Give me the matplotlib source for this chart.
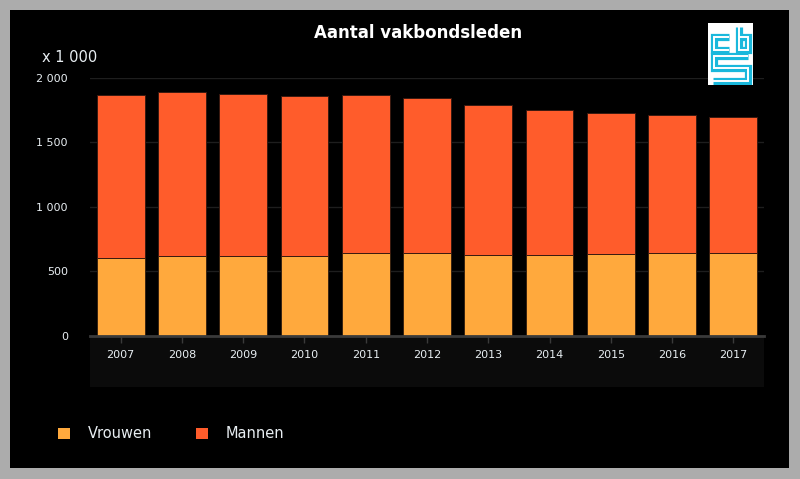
import matplotlib
matplotlib.use("Agg")
import matplotlib.pyplot as plt
from matplotlib.patches import Rectangle
import numpy as np

plt.rcParams["font.family"] = ["DejaVu Sans"]

years = ["2007", "2008", "2009", "2010", "2011", "2012", "2013", "2014", "2015", "2016", "2017"]
vrouwen = [605, 620, 620, 620, 643, 643, 628, 628, 638, 643, 643]
mannen = [1257, 1268, 1256, 1235, 1219, 1195, 1156, 1124, 1084, 1063, 1048]
yticks = [0, 500, 1000, 1500, 2000]
ytick_labels = ["0", "500", "1 000", "1 500", "2 000"]

C_V = "#ffa93d"
C_M = "#ff5c2b"
TXT = "#e8eef2"

W, H = 800, 479
fig = plt.figure(figsize=(W / 100, H / 100), dpi=100)
fig.patch.set_facecolor("#acacac")

def fx(px):
    return px / W

def fy(py):
    return 1 - py / H

# black panel
fig.patches.append(Rectangle((fx(10), fy(468)), fx(789) - fx(10), fy(10) - fy(468),
                             transform=fig.transFigure, facecolor="black", edgecolor="none", zorder=-5))
# x-axis band
fig.patches.append(Rectangle((fx(90), fy(387)), fx(764) - fx(90), fy(336) - fy(387),
                             transform=fig.transFigure, facecolor="#0b0b0b", edgecolor="none", zorder=-4))

ax = fig.add_axes([fx(90), fy(336), fx(764) - fx(90), fy(77.5) - fy(336)])
ax.set_facecolor("none")
x = np.arange(len(years))
ax.bar(x, vrouwen, width=0.78, color=C_V, edgecolor="#3a2410", linewidth=0.7, zorder=3)
ax.bar(x, mannen, width=0.78, bottom=vrouwen, color=C_M, edgecolor="#3a1a10", linewidth=0.7, zorder=3)
ax.set_xlim(-0.5, len(years) - 0.5)
ax.set_ylim(0, 2000)
ax.set_yticks(yticks)
ax.set_yticklabels(ytick_labels)
ax.set_xticks(x)
ax.set_xticklabels(years)
ax.grid(axis="y", color="#1e1e1e", linewidth=1, zorder=0)
ax.set_axisbelow(True)
for s in ["top", "right", "left"]:
    ax.spines[s].set_visible(False)
ax.spines["bottom"].set_color("#3a3a3a")
ax.spines["bottom"].set_linewidth(2)
ax.spines["bottom"].set_zorder(4)
ax.tick_params(axis="y", length=0, pad=16, labelsize=8, labelcolor=TXT)
ax.tick_params(axis="x", length=5, width=1, color="#3a3a3a", pad=5, labelsize=8, labelcolor=TXT)

# title and unit
fig.text(fx(418), fy(33), "Aantal vakbondsleden", ha="center", va="center",
         color="white", fontsize=12, fontweight="bold")
fig.text(fx(42), fy(58), "x 1 000", ha="left", va="center", color=TXT, fontsize=10.5)

# legend
for sx, tx, col, lab in [(58, 88, C_V, "Vrouwen"), (196, 226, C_M, "Mannen")]:
    fig.patches.append(Rectangle((fx(sx), fy(439)), fx(12), 11 / H, transform=fig.transFigure,
                                 facecolor=col, edgecolor="none", zorder=1))
    fig.text(fx(tx), fy(433), lab, ha="left", va="center", color=TXT, fontsize=10.5)

# CBS logo approximation
lax = fig.add_axes([fx(708), fy(85), fx(45), 62 / H])
lax.set_xlim(0, 45)
lax.set_ylim(0, 62)
lax.set_facecolor("white")
lax.set_xticks([])
lax.set_yticks([])
for s in lax.spines.values():
    s.set_visible(False)
paths = [
    [(21, 48), (6, 48), (6, 35), (21, 35)],
    [(31, 58), (31, 35), (40, 35), (40, 48), (31, 48)],
    [(40, 29.5), (6, 29.5), (6, 17), (40, 17), (40, 4.5), (5, 4.5)],
]
for p in paths:
    xs, ys = zip(*p)
    lax.plot(xs, ys, color="#1ab8dc", linewidth=5.2, solid_capstyle="butt", solid_joinstyle="miter")
    lax.plot(xs, ys, color="white", linewidth=1.4, solid_capstyle="butt", solid_joinstyle="miter")

fig.savefig("out.png", dpi=100, facecolor=fig.get_facecolor())
